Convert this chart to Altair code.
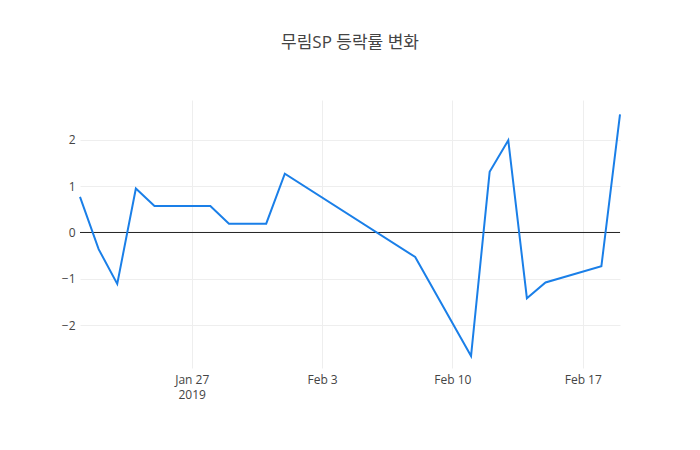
import altair as alt
import pandas as pd

dates = ["2019-01-21", "2019-01-22", "2019-01-23", "2019-01-24", "2019-01-25",
         "2019-01-28", "2019-01-29", "2019-01-31", "2019-02-01", "2019-02-08",
         "2019-02-11", "2019-02-12", "2019-02-13", "2019-02-14", "2019-02-15",
         "2019-02-18", "2019-02-19"]
changes = [0.77, -0.36, -1.11, 0.95, 0.57,
           0.57, 0.19, 0.19, 1.27, -0.53,
           -2.67, 1.31, 1.99, -1.42, -1.08,
           -0.73, 2.55]
y_ticks = [-2, -1, 0, 1, 2]
title_text = "무림SP 등락률 변화"

df = pd.DataFrame({"date": dates, "change": changes})

x_ticks = [alt.DateTime(year=2019, month=1, date=27, utc=True),
           alt.DateTime(year=2019, month=2, date=3, utc=True),
           alt.DateTime(year=2019, month=2, date=10, utc=True),
           alt.DateTime(year=2019, month=2, date=17, utc=True)]

x_scale = alt.Scale(type="utc",
                    domain=[alt.DateTime(year=2019, month=1, date=21, utc=True),
                            alt.DateTime(year=2019, month=2, date=19, utc=True)])
y_scale = alt.Scale(domain=[-2.928, 2.862], nice=False, zero=False)

line = alt.Chart(df).mark_line(color="#1a7fe8", strokeWidth=2).encode(
    x=alt.X("date:T", scale=x_scale, title=None,
            axis=alt.Axis(values=x_ticks,
                          labelExpr="utcFormat(datum.value, '%m') == '01' ? [utcFormat(datum.value, '%b %-d'), '2019'] : utcFormat(datum.value, '%b %-d')",
                          labelPadding=6, labelLineHeight=15, labelAngle=0)),
    y=alt.Y("change:Q", scale=y_scale, title=None,
            axis=alt.Axis(values=y_ticks, format="d", labelPadding=5)),
)

zero = alt.Chart(pd.DataFrame({"z": [0]})).mark_rule(color="#222", strokeWidth=1).encode(
    y=alt.Y("z:Q", scale=y_scale)
)

chart = alt.layer(zero, line).properties(
    width=540, height=268,
    autosize=alt.AutoSizeParams(type="none"),
    padding={"left": 72, "top": 92, "right": 70, "bottom": 70},
    title=alt.TitleParams(title_text, anchor="middle", fontSize=17, color="#444",
                          font="Open Sans, 'Noto Sans CJK KR'", fontWeight="normal",
                          baseline="bottom", offset=31),
).configure_view(stroke=None).configure_axis(
    domain=False, ticks=False, tickSize=0, gridColor="#eeeeee", gridWidth=1,
    labelColor="#444", labelFont="Open Sans", labelFontSize=12,
)

chart.save("out.html", embed_options={"renderer": "svg", "actions": False})
